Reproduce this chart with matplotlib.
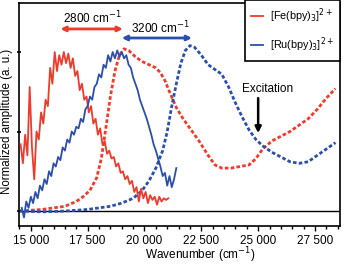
import matplotlib
matplotlib.use("Agg")
import matplotlib.pyplot as plt
from matplotlib.ticker import MultipleLocator

plt.rcParams['font.family'] = ['Liberation Sans', 'DejaVu Sans']

RED = '#ee3b2b'
BLUE = '#2c4fae'

# Fe(bpy)3 noisy solid trace
fe_solid_x = [14550, 14650, 14750, 14850, 14950, 15050, 15150, 15250, 15350, 15450,
              15550, 15650, 15750, 15850, 15950, 16050, 16150, 16250, 16350, 16450,
              16550, 16650, 16750, 16850, 16950, 17050, 17150, 17250, 17350, 17450,
              17550, 17650, 17750, 17850, 17950, 18050, 18150, 18250, 18350, 18450,
              18550, 18650, 18750, 18850, 18950, 19050, 19150, 19250, 19350, 19450,
              19550, 19650, 19750, 19850, 19950, 20050, 20150, 20250, 20350, 20450,
              20550, 20650, 20750, 20850, 20950, 21050]
fe_solid_y = [0.42, 0.30, 0.48, 0.35, 0.78, 0.40, 0.20, 0.50, 0.45, 0.62,
              0.55, 0.70, 0.66, 0.90, 0.80, 1.00, 0.88, 0.98, 0.92, 1.00,
              0.93, 0.99, 0.90, 0.96, 0.85, 0.88, 0.76, 0.80, 0.70, 0.72,
              0.62, 0.66, 0.55, 0.58, 0.48, 0.52, 0.42, 0.44, 0.36, 0.38,
              0.33, 0.34, 0.28, 0.30, 0.24, 0.25, 0.20, 0.22, 0.17, 0.19,
              0.12, 0.15, 0.06, 0.14, 0.08, 0.12, 0.05, 0.10, 0.07, 0.09,
              0.04, 0.09, 0.06, 0.08, 0.07, 0.08]

# Ru(bpy)3 noisy solid trace
ru_solid_x = [14600, 14700, 14800, 14900, 15000, 15100, 15200, 15300, 15400, 15500,
              15600, 15700, 15800, 15900, 16000, 16100, 16200, 16300, 16400, 16500,
              16600, 16700, 16800, 16900, 17000, 17100, 17200, 17300, 17400, 17500,
              17600, 17700, 17800, 17900, 18000, 18100, 18200, 18300, 18400, 18500,
              18600, 18700, 18800, 18900, 19000, 19100, 19200, 19300, 19400, 19500,
              19600, 19700, 19800, 19900, 20000, 20100, 20200, 20300, 20400, 20500,
              20600, 20700, 20800, 20900, 21000, 21100, 21200, 21300, 21400]
ru_solid_y = [0.02, -0.04, 0.06, 0.02, 0.09, 0.05, 0.12, 0.08, 0.16, 0.13,
              0.20, 0.17, 0.25, 0.22, 0.30, 0.28, 0.34, 0.32, 0.40, 0.38,
              0.45, 0.43, 0.50, 0.48, 0.53, 0.52, 0.58, 0.56, 0.64, 0.66,
              0.72, 0.70, 0.78, 0.80, 0.86, 0.84, 0.92, 0.90, 0.98, 0.94,
              1.00, 0.96, 1.01, 0.97, 1.00, 0.96, 0.98, 0.92, 0.90, 0.84,
              0.80, 0.76, 0.70, 0.66, 0.62, 0.58, 0.53, 0.48, 0.42, 0.38,
              0.33, 0.28, 0.22, 0.24, 0.16, 0.22, 0.15, 0.20, 0.27]

# Fe(bpy)3 dashed trace
fe_dash_x = [14500, 15000, 15500, 16000, 16500, 17000, 17300, 17600, 17900, 18100,
             18300, 18500, 18700, 18900, 19100, 19300, 19600, 19900, 20200, 20500,
             20700, 20900, 21100, 21400, 21700, 22000, 22400, 22800, 23100, 23400,
             23800, 24200, 24600, 24900, 25200, 25600, 26000, 26400, 26800, 27200,
             27600, 28000, 28400]
fe_dash_y = [0.0, 0.005, 0.01, 0.02, 0.03, 0.06, 0.09, 0.13, 0.21, 0.33,
             0.52, 0.72, 0.88, 0.98, 1.02, 1.01, 0.97, 0.94, 0.92, 0.90,
             0.87, 0.82, 0.75, 0.65, 0.58, 0.52, 0.44, 0.35, 0.29, 0.27,
             0.27, 0.28, 0.29, 0.33, 0.39, 0.44, 0.47, 0.50, 0.54, 0.58,
             0.64, 0.71, 0.77]

# Ru(bpy)3 dashed trace
ru_dash_x = [14500, 15500, 16500, 17500, 18500, 19000, 19500, 19900, 20200, 20500,
             20800, 21000, 21200, 21400, 21600, 21800, 22000, 22200, 22500, 22800,
             23100, 23400, 23700, 24000, 24300, 24600, 24900, 25200, 25600, 26000,
             26400, 26800, 27200, 27600, 28000, 28400]
ru_dash_y = [0.0, -0.005, 0.0, 0.01, 0.03, 0.05, 0.08, 0.13, 0.19, 0.27,
             0.38, 0.50, 0.66, 0.80, 0.93, 1.01, 1.04, 1.03, 0.98, 0.92,
             0.89, 0.86, 0.78, 0.68, 0.59, 0.51, 0.45, 0.41, 0.37, 0.34,
             0.31, 0.30, 0.31, 0.35, 0.39, 0.43]

x_ticks = [15000, 17500, 20000, 22500, 25000, 27500]
x_tick_labels = ['15 000', '17 500', '20 000', '22 500', '25 000', '27 500']

fig = plt.figure(figsize=(3.54, 2.65), dpi=100)
ax = fig.add_axes([19/354, 1 - 226/265, (340-19)/354, (226-3)/265])

ax.axhline(0, color='black', lw=1.0, zorder=1)

ax.plot(fe_solid_x, fe_solid_y, color=RED, lw=1.3, zorder=3)
ax.plot(ru_solid_x, ru_solid_y, color=BLUE, lw=1.3, zorder=3)
ax.plot(fe_dash_x, fe_dash_y, color=RED, lw=2.0, ls=(0, (1.3, 0.8)), zorder=2)
ax.plot(ru_dash_x, ru_dash_y, color=BLUE, lw=2.0, ls=(0, (1.3, 0.8)), zorder=2)

ax.set_xlim(14480, 28600)
ax.set_ylim(-0.094, 1.308)

ax.set_xticks(x_ticks)
ax.set_xticklabels(x_tick_labels, fontsize=8.5)
ax.xaxis.set_minor_locator(MultipleLocator(500))
ax.tick_params(axis='x', which='major', direction='out', length=3.5, width=1, pad=3)
ax.tick_params(axis='x', which='minor', direction='out', length=2, width=1)
ax.set_yticks([0, 0.5, 1])
ax.set_yticklabels([])
ax.tick_params(axis='y', which='major', direction='inout', length=3, width=1.2)

for s in ax.spines.values():
    s.set_linewidth(1.2)

ax.set_xlabel('Wavenumber (cm$^{-1}$)', fontsize=8.5)
ax.xaxis.set_label_coords(0.565, -0.088)
ax.set_ylabel('Normalized amplitude (a. u.)', fontsize=8.3)
ax.yaxis.set_label_coords(-0.018, 0.47)

# Arrows and annotations
ax.annotate('', xy=(16300, 1.145), xytext=(19050, 1.145),
            arrowprops=dict(arrowstyle='<|-|>', color=RED, lw=2, mutation_scale=7, shrinkA=0, shrinkB=0))
ax.text(17700, 1.215, '2800 cm$^{-1}$', fontsize=8.5, ha='center', va='center')
ax.annotate('', xy=(19000, 1.088), xytext=(22090, 1.088),
            arrowprops=dict(arrowstyle='<|-|>', color=BLUE, lw=2, mutation_scale=7, shrinkA=0, shrinkB=0))
ax.text(20700, 1.15, '3200 cm$^{-1}$', fontsize=8.5, ha='center', va='center')

ax.annotate('', xy=(25000, 0.49), xytext=(25000, 0.71),
            arrowprops=dict(arrowstyle='-|>', color='black', lw=1.8, mutation_scale=9, shrinkA=0, shrinkB=0))
ax.text(25400, 0.765, 'Excitation', fontsize=8.5, ha='center', va='center')

leg_handles = [plt.Line2D([], [], color=RED, lw=1.3), plt.Line2D([], [], color=BLUE, lw=1.3)]
leg = ax.legend(leg_handles, ['[Fe(bpy)$_3$]$^{2+}$', '[Ru(bpy)$_3$]$^{2+}$'],
                loc='upper right', bbox_to_anchor=(1.0, 1.013), fontsize=7.8,
                frameon=True, fancybox=False, handlelength=1.1, handletextpad=0.6,
                borderpad=0.6, labelspacing=0.95, borderaxespad=0)
leg.get_frame().set_edgecolor('black')
leg.get_frame().set_linewidth(1.2)
leg.get_frame().set_alpha(1)

fig.savefig('out.png', dpi=100)
